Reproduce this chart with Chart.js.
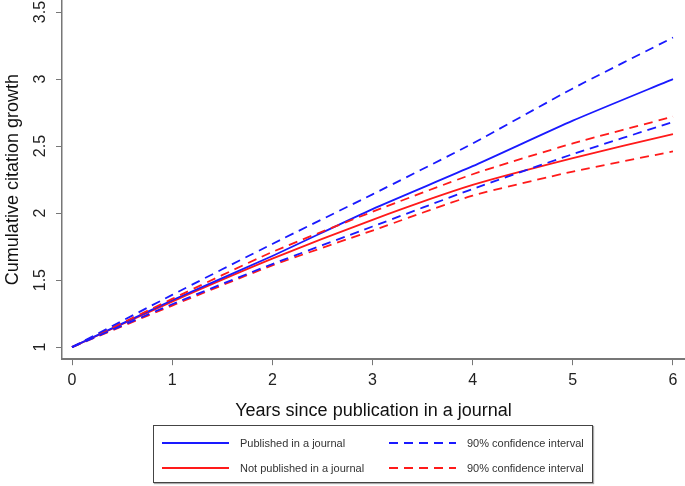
<!DOCTYPE html>
<html>
<head>
<meta charset="utf-8">
<script src="https://cdn.jsdelivr.net/npm/chart.js@4.4.0/dist/chart.umd.min.js"></script>
<style>
  html, body { margin: 0; padding: 0; background: #fff; }
  #wrap { position: relative; width: 685px; height: 486px; }
  #legend {
    position: absolute; left: 153px; top: 425px; width: 438px; height: 56px;
    border: 1px solid #444; box-shadow: 1px 1px 1px #aaa;
    font-family: "Liberation Sans", Arial, sans-serif; font-size: 11px; color: #333;
  }
  .item { position: absolute; display: flex; align-items: center; white-space: nowrap; }
  .item svg { margin-right: 11px; }
</style>
</head>
<body>
<div id="wrap">
  <canvas id="chart" width="685" height="486"></canvas>
  <div id="legend"></div>
</div>
<script>
// years since publication
const years = [0, 1, 2, 3, 4, 5, 6];

// cumulative citation growth, published in a journal
const pubMean  = [1, 1.35, 1.68, 2.03, 2.35, 2.69, 3.00];
const pubUpper = [1, 1.39, 1.77, 2.14, 2.52, 2.93, 3.31];
const pubLower = [1, 1.32, 1.62, 1.90, 2.18, 2.44, 2.68];

// not published in a journal
const notMean  = [1, 1.34, 1.66, 1.95, 2.21, 2.41, 2.59];
const notUpper = [1, 1.36, 1.71, 2.01, 2.29, 2.52, 2.72];
const notLower = [1, 1.31, 1.61, 1.87, 2.13, 2.31, 2.46];

const yTicks = [1, 1.5, 2, 2.5, 3, 3.5];
const xTicks = [0, 1, 2, 3, 4, 5, 6];

const BLUE = '#1a1aff';
const RED = '#ff1a1a';
const FONT = '"Liberation Sans", Arial, sans-serif';

const pts = (vals) => years.map((x, i) => ({ x: x, y: vals[i] }));

function line(label, vals, color, dashed) {
  return {
    label: label,
    data: pts(vals),
    borderColor: color,
    borderWidth: 1.8,
    borderDash: dashed ? [9, 6] : [],
    pointRadius: 0,
    fill: false,
    tension: 0.2
  };
}

const datasets = [
  line('90% confidence interval', pubUpper, BLUE, true),
  line('90% confidence interval', pubLower, BLUE, true),
  line('90% confidence interval', notUpper, RED, true),
  line('90% confidence interval', notLower, RED, true),
  line('Published in a journal', pubMean, BLUE, false),
  line('Not published in a journal', notMean, RED, false)
];

// rotated y tick labels, as in the original figure
const yLabelPlugin = {
  id: 'yLabels',
  afterDraw(chart) {
    const ctx = chart.ctx;
    const y = chart.scales.y;
    ctx.save();
    ctx.fillStyle = '#222';
    ctx.font = '16px ' + FONT;
    ctx.textAlign = 'center';
    ctx.textBaseline = 'middle';
    yTicks.forEach(v => {
      ctx.save();
      ctx.translate(41, y.getPixelForValue(v));
      ctx.rotate(-Math.PI / 2);
      ctx.fillText(String(v), 0, 0);
      ctx.restore();
    });
    ctx.restore();
  }
};

new Chart(document.getElementById('chart'), {
  type: 'line',
  data: { datasets: datasets },
  plugins: [yLabelPlugin],
  options: {
    responsive: false,
    animation: false,
    layout: { padding: { top: 0, right: 0, bottom: 64, left: 0 } },
    plugins: { legend: { display: false }, tooltip: { enabled: false } },
    scales: {
      x: {
        type: 'linear',
        min: -0.1,
        max: 6.12,
        afterBuildTicks: s => { s.ticks = xTicks.map(v => ({ value: v })); },
        ticks: { color: '#222', font: { family: FONT, size: 16 }, padding: 6, maxRotation: 0 },
        grid: { drawOnChartArea: false, drawTicks: true, tickLength: 6, color: '#777' },
        border: { display: true, color: '#777', width: 2 },
        title: {
          display: true, text: 'Years since publication in a journal',
          color: '#111', font: { family: FONT, size: 18 }, padding: { top: 4, bottom: 0 }
        }
      },
      y: {
        type: 'linear',
        min: 0.91,
        max: 3.59,
        afterBuildTicks: s => { s.ticks = yTicks.map(v => ({ value: v })); },
        afterFit: s => { s.width = 62; },
        ticks: { display: false },
        grid: { drawOnChartArea: false, drawTicks: true, tickLength: 6, color: '#777' },
        border: { display: true, color: '#777', width: 1.5 },
        title: {
          display: true, text: 'Cumulative citation growth',
          color: '#111', font: { family: FONT, size: 18 }, padding: { top: 2, bottom: 0 }
        }
      }
    }
  }
});

// legend box built from the same datasets
const legendItems = [
  { ds: datasets[4], left: 8, top: 10 },
  { ds: datasets[0], left: 235, top: 10 },
  { ds: datasets[5], left: 8, top: 35 },
  { ds: datasets[2], left: 235, top: 35 }
];
const legend = document.getElementById('legend');
legendItems.forEach(it => {
  const d = document.createElement('div');
  d.className = 'item';
  d.style.left = it.left + 'px';
  d.style.top = it.top + 'px';
  const dash = it.ds.borderDash.length ? 'stroke-dasharray="9 6"' : '';
  d.innerHTML = '<svg width="67" height="14"><line x1="0" y1="7" x2="67" y2="7" stroke="' +
    it.ds.borderColor + '" stroke-width="1.8" ' + dash + '/></svg><span>' + it.ds.label + '</span>';
  legend.appendChild(d);
});
</script>
</body>
</html>
